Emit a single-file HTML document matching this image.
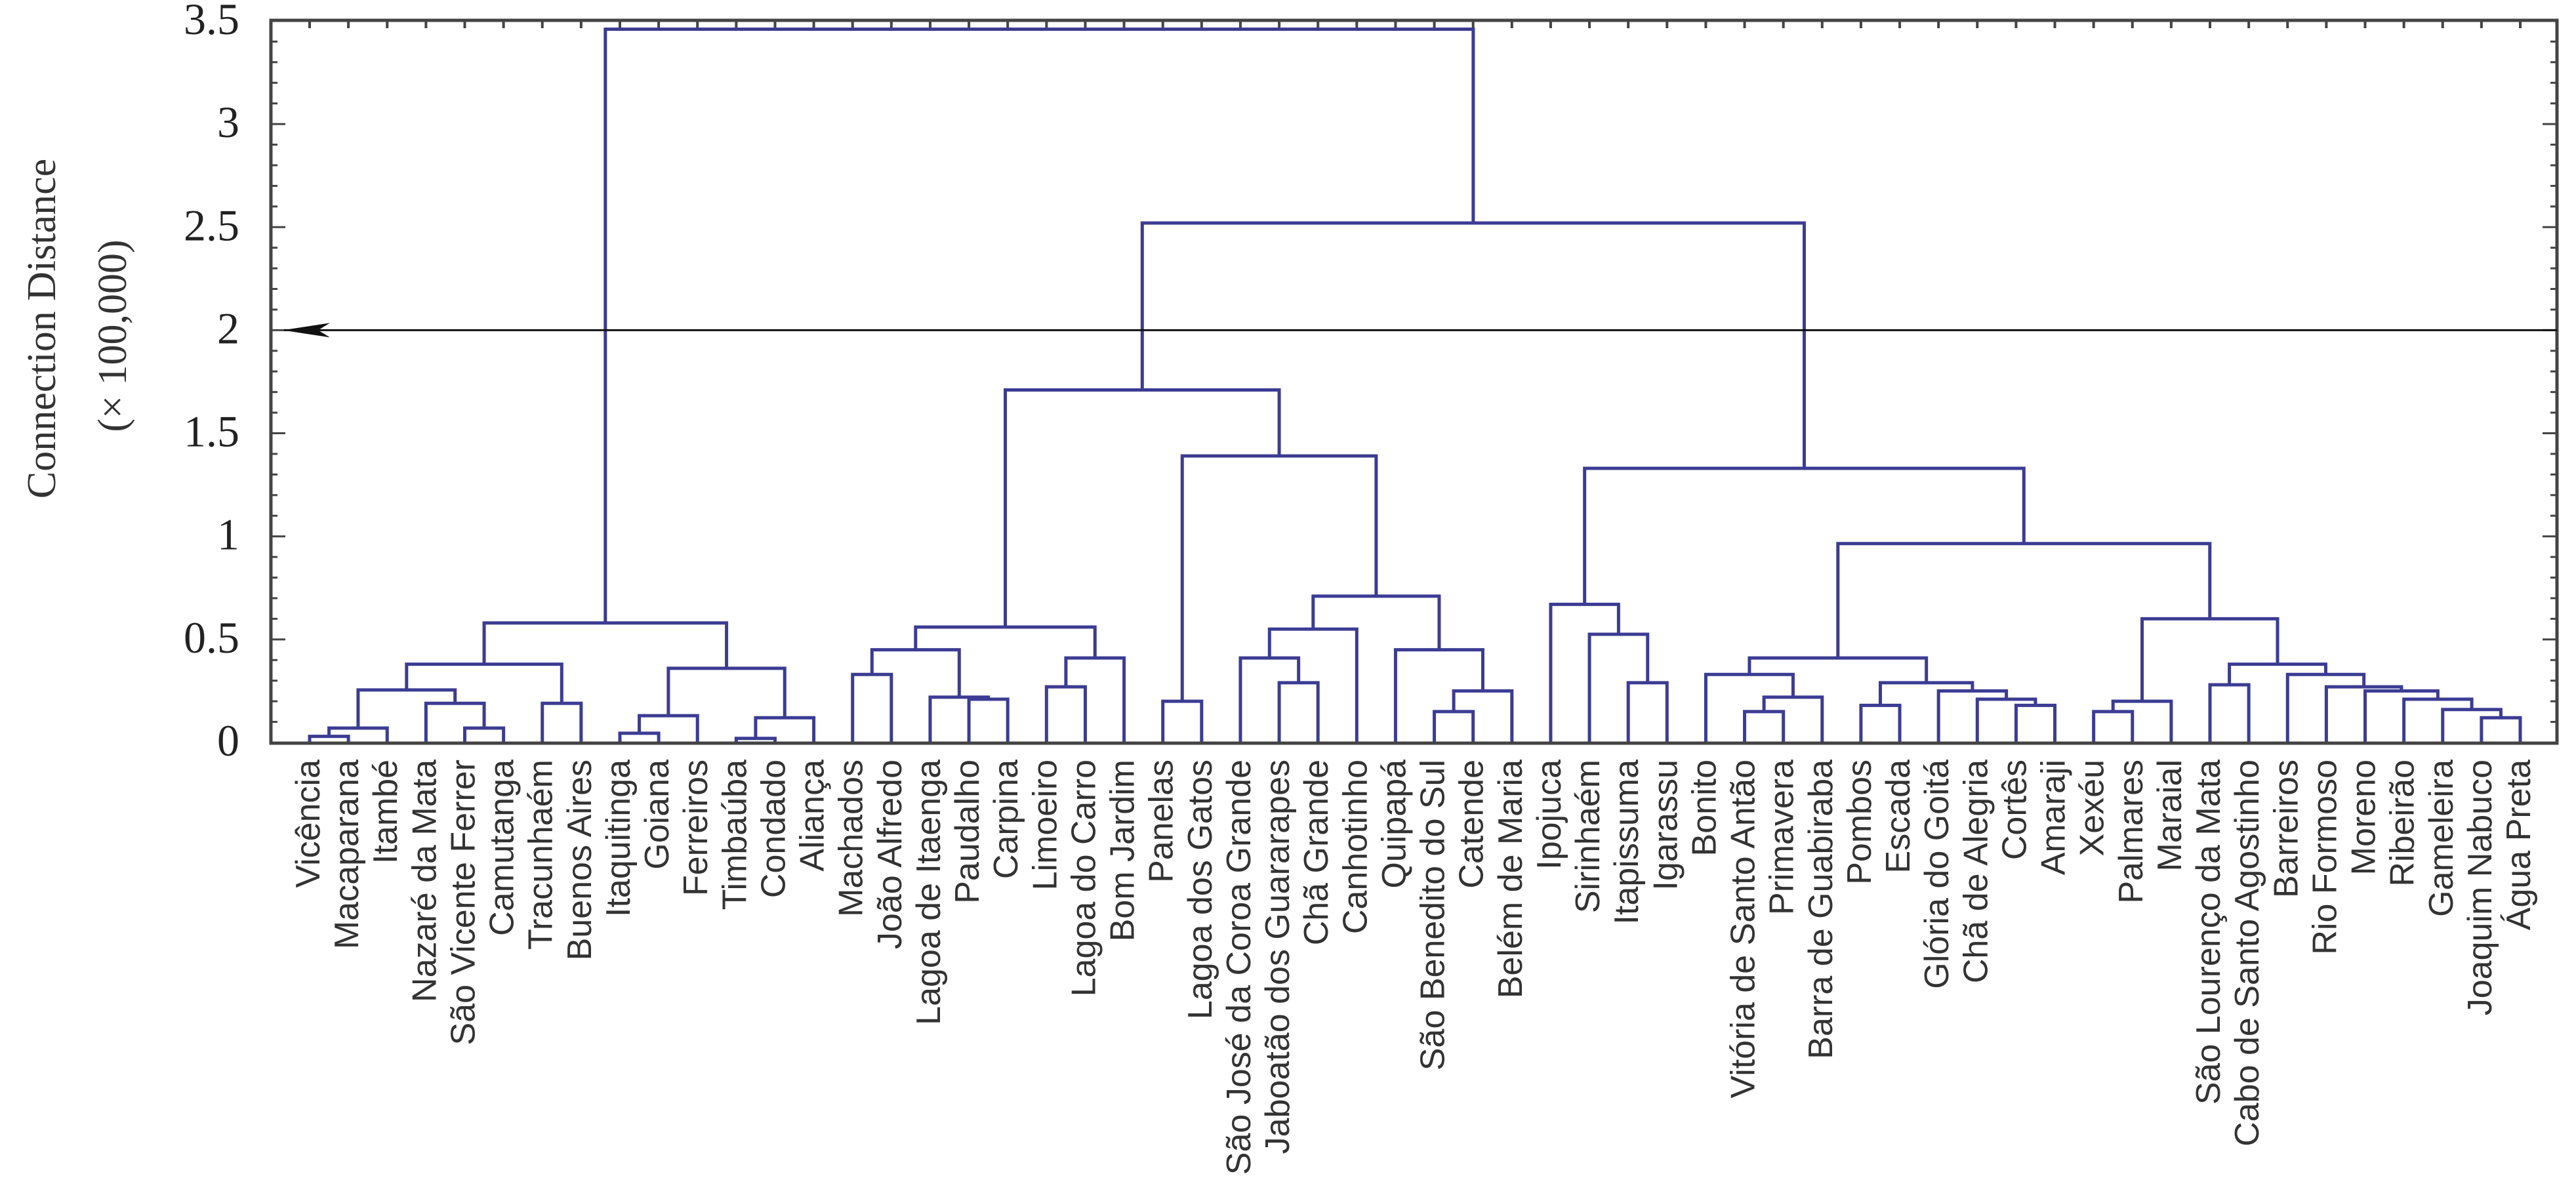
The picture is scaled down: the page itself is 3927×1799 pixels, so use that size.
<!DOCTYPE html>
<html><head><meta charset="utf-8"><style>
html,body{margin:0;padding:0;background:#fff;}
svg{display:block;}
</style></head><body>
<svg id="chart" width="3927" height="1799" viewBox="0 0 3927 1799" xmlns="http://www.w3.org/2000/svg">
  <rect x="0" y="0" width="3927" height="1799" fill="#ffffff"/>
  <g id="yaxis"></g>
  <g id="tree"></g>
  <g id="labels"></g>
  <text transform="translate(84,501) rotate(-90)" text-anchor="middle" font-family="Liberation Serif, serif" font-size="62" fill="#333">Connection Distance</text>
  <text transform="translate(192,512) rotate(-90)" text-anchor="middle" font-family="Liberation Serif, serif" font-size="62" fill="#333">(× 100,000)</text>
</svg>
<script>
const leafNames = ["Vicência","Macaparana","Itambé","Nazaré da Mata","São Vicente Ferrer","Camutanga","Tracunhaém","Buenos Aires","Itaquitinga","Goiana","Ferreiros","Timbaúba","Condado","Aliança","Machados","João Alfredo","Lagoa de Itaenga","Paudalho","Carpina","Limoeiro","Lagoa do Carro","Bom Jardim","Panelas","Lagoa dos Gatos","São José da Coroa Grande","Jaboatão dos Guararapes","Chã Grande","Canhotinho","Quipapá","São Benedito do Sul","Catende","Belém de Maria","Ipojuca","Sirinhaém","Itapissuma","Igarassu","Bonito","Vitória de Santo Antão","Primavera","Barra de Guabiraba","Pombos","Escada","Glória do Goitá","Chã de Alegria","Cortês","Amaraji","Xexéu","Palmares","Maraial","São Lourenço da Mata","Cabo de Santo Agostinho","Barreiros","Rio Formoso","Moreno","Ribeirão","Gameleira","Joaquim Nabuco","Água Preta"];
const mergeLeft  = [0,58,4,3,59,6,62,8,65,11,67,66,64,14,17,16,71,19,75,74,22,25,24,80,29,82,28,81,78,77,34,33,32,37,91,36,40,44,43,42,94,93,46,100,49,56,55,54,53,52,51,102,101,99,90,87,70];
const mergeRight = [1,2,5,60,61,7,63,9,10,12,13,68,69,15,18,72,73,20,21,76,23,26,79,27,30,31,83,84,85,86,35,88,89,38,39,92,41,45,95,96,97,98,47,48,50,57,103,104,105,106,107,108,109,110,111,112,113];
const mergeHeight= [0.03,0.07,0.07,0.19,0.255,0.19,0.38,0.045,0.13,0.02,0.12,0.36,0.58,0.33,0.21,0.22,0.45,0.27,0.41,0.56,0.2,0.29,0.41,0.55,0.15,0.25,0.45,0.71,1.39,1.71,0.29,0.525,0.67,0.15,0.22,0.33,0.18,0.18,0.21,0.25,0.29,0.41,0.15,0.2,0.28,0.12,0.16,0.21,0.25,0.27,0.33,0.38,0.6,0.965,1.33,2.52,3.46];
const yTicks = [0,0.5,1,1.5,2,2.5,3,3.5];
const yTickLabels = ["0","0.5","1","1.5","2","2.5","3","3.5"];
const cutHeight = 2;

const NS="http://www.w3.org/2000/svg";
const L=413, R=3898, T=31, B=1133;
const y0=1132, yPer=314.3;
function yScale(v){return y0 - v*yPer;}
const x0=472, pitch=(3842-472)/(leafNames.length-1);
function xScale(i){return x0 + i*pitch;}
function mk(tag, attrs, parent){const e=document.createElementNS(NS,tag);for(const k in attrs)e.setAttribute(k,attrs[k]);parent.appendChild(e);return e;}

const svg=document.getElementById('chart');
const yaxis=document.getElementById('yaxis');
const tree=document.getElementById('tree');
const labels=document.getElementById('labels');

for(let k=0;k<=35;k++){
  const v=k/10, y=yScale(v), major=(k%5===0), len=major?22:10;
  const t1=mk('line',{x1:L,x2:L+len,y1:y,y2:y,stroke:'#444','stroke-width':3},yaxis);
  
  
  const t2=mk('line',{x1:R,x2:R-len,y1:y,y2:y,stroke:'#444','stroke-width':3},yaxis);
  
  
}
for(let i=0;i<leafNames.length;i++){
  const t=mk('line',{x1:xScale(i),x2:xScale(i),y1:T,y2:T+12,stroke:'#444','stroke-width':4},yaxis);
  
  
}
yTicks.forEach((v,i)=>{
  const t=mk('text',{x:365,y:yScale(v)+20,'text-anchor':'end','font-family':'Liberation Serif, serif','font-size':68,fill:'#222'},yaxis);
  t.textContent=yTickLabels[i];
  
  
});

const n=leafNames.length;
const nodeX=[], nodeY=[];
for(let i=0;i<n;i++){nodeX[i]=xScale(i);nodeY[i]=B;}
for(let k=0;k<mergeLeft.length;k++){
  const a=mergeLeft[k], b=mergeRight[k], id=n+k;
  const y=yScale(mergeHeight[k]);
  nodeX[id]=(nodeX[a]+nodeX[b])/2; nodeY[id]=y;
  const p=mk('path',{d:`M${nodeX[a]},${nodeY[a]}V${y}H${nodeX[b]}V${nodeY[b]}`,fill:'none',stroke:'#3c3c94','stroke-width':5},tree);
  
  
}

const frame=mk('rect',{x:L,y:T,width:R-L,height:B-T,fill:'none',stroke:'#444','stroke-width':5},svg);



const cy=yScale(cutHeight);
const cl=mk('line',{x1:L+20,x2:R,y1:cy,y2:cy,stroke:'#111','stroke-width':3},svg);


const ah=mk('path',{d:`M${L+18},${cy} L${L+90},${cy-11} L${L+72},${cy} L${L+90},${cy+11} Z`,fill:'#111'},svg);



leafNames.forEach((name,i)=>{
  const t=mk('text',{transform:`translate(${xScale(i)+15},1158) rotate(-90)`,'text-anchor':'end','font-family':'Liberation Sans Narrow, Liberation Sans, sans-serif','font-stretch':'condensed','font-size':52,fill:'#333'},labels);
  t.textContent=name;
  
  
});
</script>
</body></html>
